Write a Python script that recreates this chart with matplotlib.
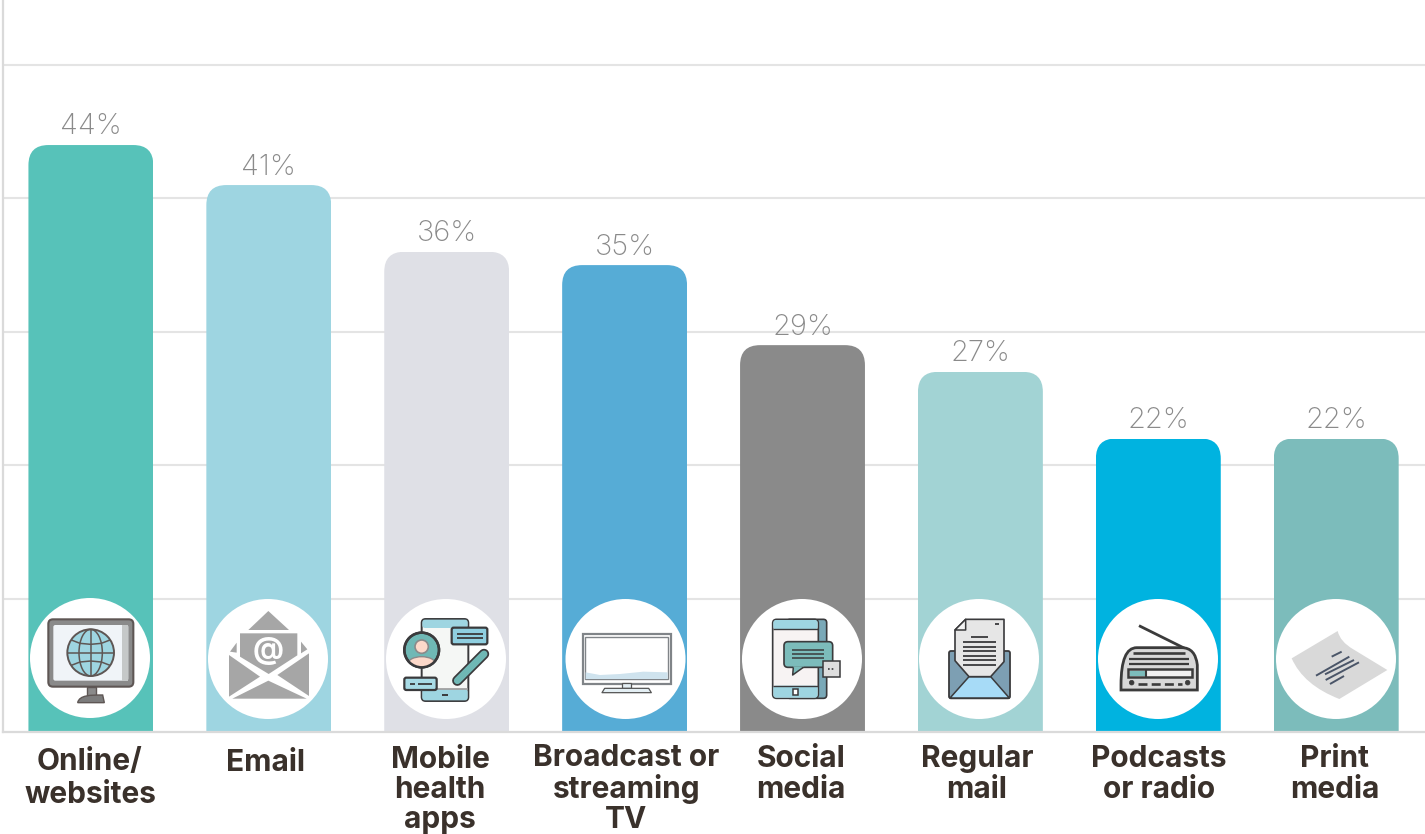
import matplotlib
matplotlib.use("Agg")
import matplotlib.pyplot as plt
from matplotlib.patches import Circle, Ellipse, FancyBboxPatch, PathPatch, Polygon, Rectangle
from matplotlib.path import Path
from matplotlib.transforms import Affine2D

plt.rcParams["font.family"] = ["Inter", "DejaVu Sans"]

categories = ["Online/\nwebsites", "Email", "Mobile\nhealth\napps", "Broadcast or\nstreaming\nTV",
              "Social\nmedia", "Regular\nmail", "Podcasts\nor radio", "Print\nmedia"]
values = [44, 41, 36, 35, 29, 27, 22, 22]
bar_colors = ["#57c2b9", "#9ed5e1", "#dfe0e6", "#56acd6", "#8a8a8a", "#a2d3d4", "#00b3e0", "#7cbcbb"]
grid_ticks = [10, 20, 30, 40, 50]

W, H = 1425, 834
fig = plt.figure(figsize=(W / 100, H / 100), dpi=100, facecolor="white")
BASE_Y, PX_PER_UNIT = 732, 13.34
LEFT_X = 3
ax = fig.add_axes([LEFT_X / W, (H - BASE_Y) / H, (W - LEFT_X) / W, BASE_Y / H])
ax.set_xlim(-0.494, 7.499)
ax.set_ylim(0, BASE_Y / PX_PER_UNIT)
ax.set_xticks([])
ax.set_yticks(grid_ticks)
ax.tick_params(left=False, labelleft=False)
ax.grid(axis="y", color="#e4e4e4", linewidth=1.5, zorder=0)
ax.set_axisbelow(True)
for side in ("top", "right"):
    ax.spines[side].set_visible(False)
for side in ("left", "bottom"):
    ax.spines[side].set_color("#dadada")
    ax.spines[side].set_linewidth(1.6)
ax.spines["bottom"].set_zorder(5)

# Bars, clipped so that only their upper corners are rounded
bars = ax.bar(range(len(values)), values, width=0.702, color=bar_colors, zorder=2)
rx, ry = 20 / 178, 20 / PX_PER_UNIT
for rect in bars:
    x0, w, h = rect.get_x(), rect.get_width(), rect.get_height()
    x1 = x0 + w
    verts = [(x0, -1), (x0, h - ry), (x0, h), (x0 + rx, h), (x1 - rx, h), (x1, h), (x1, h - ry), (x1, -1), (x0, -1)]
    codes = [Path.MOVETO, Path.LINETO, Path.CURVE3, Path.CURVE3, Path.LINETO, Path.CURVE3, Path.CURVE3, Path.LINETO,
             Path.CLOSEPOLY]
    rect.set_clip_path(Path(verts, codes), ax.transData)

for i, v in enumerate(values):
    ax.annotate(f"{v}%", (i, v), xytext=(0, 13), textcoords="offset points", ha="center", va="center",
                fontsize=21, fontweight="light", color="#8a8a8a", zorder=6)

# Overlay in pixel units for the category labels and the pictograms
ov = fig.add_axes([0, 0, 1, 1], facecolor="none")
ov.set_xlim(0, W)
ov.set_ylim(H, 0)
ov.axis("off")

label_x = [90, 266, 440, 626.5, 801, 977, 1159, 1335]
label_y = [778.5, 763, 790, 789, 774.5, 774.5, 774.5, 774.5]
label_spacing = [1.27, 1.0, 1.1, 1.1, 1.1, 1.1, 1.1, 1.1]
for text, x, y, sp in zip(categories, label_x, label_y, label_spacing):
    ov.text(x, y, text, ha="center", va="center", fontsize=21.5, fontweight="bold", color="#3a312b",
            linespacing=sp)

circle_x = [90, 268, 446, 625.5, 802, 979, 1158, 1336]
circle_y = [658, 659, 659, 659, 659, 659, 659, 659]
for x, y in zip(circle_x, circle_y):
    ov.add_patch(Circle((x, y), 60, fc="white", ec="none", zorder=3))

DARK = "#3a3a3c"


class Icon:
    """Draws shapes given in a 3x-scaled local frame with its own pixel origin."""

    def __init__(self, ox, oy):
        self.t = Affine2D().scale(1 / 3).translate(ox, oy) + ov.transData

    def add(self, p):
        p.set_transform(self.t)
        p.set_zorder(4)
        ov.add_patch(p)
        return p

    def box(self, x0, y0, x1, y1, fc, ec=DARK, lw=1.3, r=0):
        if r:
            p = FancyBboxPatch((x0 + r, y0 + r), x1 - x0 - 2 * r, y1 - y0 - 2 * r,
                               boxstyle=f"round,pad={r},rounding_size={r}", fc=fc, ec=ec, lw=lw)
        else:
            p = Rectangle((x0, y0), x1 - x0, y1 - y0, fc=fc, ec=ec, lw=lw)
        return self.add(p)

    def poly(self, pts, fc, ec="none", lw=1.2):
        return self.add(Polygon(pts, closed=True, fc=fc, ec=ec, lw=lw, joinstyle="round"))

    def line(self, pts, color=DARK, lw=1.3, cap="butt"):
        xs, ys = zip(*pts)
        ln, = ov.plot(xs, ys, color=color, lw=lw, transform=self.t, zorder=4, solid_capstyle=cap)
        return ln

    def circ(self, x, y, r, fc, ec=DARK, lw=1.3):
        return self.add(Circle((x, y), r, fc=fc, ec=ec, lw=lw))

    def ell(self, x, y, w, h, fc="none", ec=DARK, lw=1.1):
        return self.add(Ellipse((x, y), w, h, fc=fc, ec=ec, lw=lw))


# Monitor with globe
a = Icon(0, 590)
EDGE = "#5e5654"
a.box(145, 88, 400, 290, "#8a8a8a", EDGE, 1.5, r=14)
a.box(160, 105, 385, 272, "#f0f4f8", "none", 0, r=6)
a.box(365, 105, 385, 272, "#c5c8c8", "none", 0)
a.box(260, 290, 287, 320, "#8a8a8a", EDGE, 1.0)
a.add(PathPatch(Path([(233, 338), (238, 315), (272, 315), (308, 315), (313, 338), (233, 338)],
                     [Path.MOVETO, Path.CURVE4, Path.CURVE4, Path.CURVE4, Path.LINETO, Path.CLOSEPOLY]),
                fc="#7c7c7c", ec=EDGE, lw=1))
a.circ(272, 188, 70, "#9ed5e1", EDGE, 1.4)
a.ell(272, 188, 70, 140, lw=1.1, ec=EDGE)
a.line([(272, 118), (272, 258)], EDGE, 1.1)
a.line([(202, 188), (342, 188)], EDGE, 1.1)
a.line([(214, 150), (240, 160), (272, 163), (304, 160), (330, 150)], EDGE, 1.1)
a.line([(214, 226), (240, 216), (272, 213), (304, 216), (330, 226)], EDGE, 1.1)

# Open envelope
b = Icon(0, 590)
GREY = "#a6a6a6"
b.poly([(805, 63), (867, 120), (745, 120)], GREY)
b.poly([(720, 130), (892, 130), (892, 196), (806, 252), (720, 200)], GREY)
b.poly([(690, 185), (710, 158), (710, 188)], GREY)
b.poly([(903, 155), (922, 178), (903, 190)], GREY)
b.poly([(687, 195), (780, 260), (687, 320)], GREY)
b.poly([(927, 190), (832, 255), (927, 318)], GREY)
b.poly([(697, 326), (805, 272), (920, 326)], GREY)
ov.text(268.5, 651, "@", ha="center", va="center", fontsize=22, fontweight="bold", color="white", zorder=5)

# Phone with profile, messages and pen
c = Icon(0, 590)
c.box(1265, 87, 1405, 333, "#f5f7f5", DARK, 1.4, r=12)
c.box(1267, 89, 1403, 114, "#9ed5e1", "none", 0, r=8)
c.box(1267, 298, 1403, 331, "#9ed5e1", "none", 0, r=8)
c.line([(1267, 298), (1403, 298)], "#9a9a9a", 1.2)
c.line([(1325, 315), (1343, 315)], DARK, 1.4)
face = c.circ(1265, 180, 52, "#6fb8b5", DARK, 1.8)
shoulders = c.add(Ellipse((1265, 222), 84, 44, fc="#fdd9ca", ec="#8a8a8a", lw=1))
shoulders.set_clip_path(face)
c.circ(1265, 170, 20, "#fdd9ca", "#8a8a8a", 1.2)
c.circ(1265, 180, 52, "none", DARK, 1.8)
c.box(1355, 113, 1462, 163, "#8fcfe0", DARK, 1.6, r=6)
c.line([(1372, 131), (1448, 131)], DARK, 1.3)
c.line([(1372, 145), (1448, 145)], DARK, 1.3)
c.box(1213, 263, 1310, 300, "#a8dbe6", DARK, 1.6, r=6)
c.line([(1230, 282), (1245, 282)], DARK, 1.3)
c.line([(1255, 282), (1295, 282)], DARK, 1.3)
c.line([(1372, 272), (1452, 192)], DARK, 7.5, "round")
c.line([(1372, 272), (1452, 192)], "#6fb8b5", 5, "round")

# Flat-screen television
d = Icon(520, 590)
d.box(188, 133, 452, 281, "white", "#808488", 1.6)
d.box(196, 141, 444, 268, "white", "#808488", 1.0)
d.poly([(197, 247), (240, 255), (300, 252), (370, 245), (443, 247), (443, 267), (197, 267)], "#cfe3ee")
d.box(307, 279, 333, 295, "#e4eff4", "#555555", 0.9)
d.poly([(254, 295), (386, 295), (394, 308), (246, 308)], "#e4eff4", "#555555", 0.9)

# Tablet with speech bubbles
e = Icon(520, 590)
e.box(800, 88, 920, 325, "#7aa9b8", DARK, 1.2, r=10)
e.box(758, 88, 895, 325, "#f7f3f3", DARK, 1.2, r=12)
e.box(760, 90, 893, 118, "#9ed5e1", "none", 0, r=8)
e.box(760, 287, 893, 323, "#9ed5e1", "none", 0, r=8)
e.line([(760, 118), (893, 118)], DARK, 1.0)
e.line([(760, 287), (893, 287)], DARK, 1.0)
e.box(818, 297, 835, 315, "white", DARK, 1.1)
e.box(792, 155, 938, 232, "#7cbcbb", DARK, 1.2, r=12)
e.poly([(820, 229), (818, 255), (852, 229)], "#7cbcbb")
e.line([(820, 232), (818, 255), (850, 232)], DARK, 1.1)
for yy in (180, 192, 205):
    e.line([(817, yy), (913, yy)], DARK, 1.1)
e.box(910, 213, 960, 260, "#dedede", DARK, 1.1)
e.line([(924, 237), (946, 237)], DARK, 1.2).set_linestyle((0, (1, 1.2)))

# Envelope with letter
f = Icon(520, 590)
f.box(1287, 183, 1470, 325, "#7d9fb3", DARK, 1.3, r=6)
f.poly([(1290, 324), (1347, 260), (1412, 260), (1468, 324)], "#a7dbf7", DARK, 1.1)
f.poly([(1305, 120), (1337, 88), (1452, 88), (1452, 215), (1412, 260), (1347, 260), (1305, 212)],
       "#e6e6e6", DARK, 1.2)
f.poly([(1305, 120), (1337, 88), (1337, 120)], "#f4f4f4", DARK, 1.1)
f.line([(1425, 103), (1437, 103)], DARK, 1.3)
f.line([(1353, 142), (1405, 142)], DARK, 1.3)
for yy in (157, 170, 184, 198, 211, 225):
    f.line([(1330, yy), (1428, yy)], DARK, 1.3)

# Radio
g = Icon(1040, 590)
RADIO = "#3b3b3b"
g.line([(297, 107), (440, 178)], RADIO, 2)
g.add(PathPatch(Path([(243, 285), (243, 173), (290, 173), (425, 173), (466, 173), (472, 225), (472, 300),
                      (460, 300), (255, 300), (243, 300), (243, 285)],
                     [Path.MOVETO, Path.CURVE3, Path.CURVE3, Path.LINETO, Path.CURVE3, Path.CURVE3, Path.LINETO,
                      Path.LINETO, Path.LINETO, Path.LINETO, Path.CLOSEPOLY]), fc="#d8d8d8", ec=RADIO, lw=2))
g.line([(280, 190), (435, 190)], RADIO, 1.9)
g.line([(268, 207), (447, 207)], RADIO, 1.6)
g.line([(268, 222), (447, 222)], RADIO, 1.6)
g.box(265, 238, 455, 262, "#f0f0f0", RADIO, 1.8)
g.box(270, 242, 317, 258, "#7cbcbb", "none", 0)
g.line([(319, 238), (319, 262)], RADIO, 1.5)
g.circ(275, 278, 7, RADIO, RADIO, 0.5)
g.circ(443, 278, 7, RADIO, RADIO, 0.5)
g.line([(295, 283), (425, 283)], RADIO, 1.9).set_linestyle((0, (3.4, 1.6)))

# Curling sheet of newsprint
p = Icon(1040, 590)
p.add(PathPatch(Path([(755, 205), (893, 123), (900, 155), (940, 178), (1042, 240), (898, 327), (790, 285), (755, 205)],
                     [Path.MOVETO, Path.LINETO, Path.CURVE3, Path.CURVE3, Path.LINETO, Path.LINETO, Path.CURVE3,
                      Path.CURVE3]), fc="#d9d9d9", ec="none"))
NEWS = "#4a5568"
for pts in ([(875, 200), (905, 185)], [(828, 257), (928, 200)], [(855, 253), (942, 210)],
            [(857, 270), (957, 217)], [(870, 282), (912, 258)]):
    p.line(pts, NEWS, 1.4)

fig.savefig("out.png", dpi=100, facecolor="white")
